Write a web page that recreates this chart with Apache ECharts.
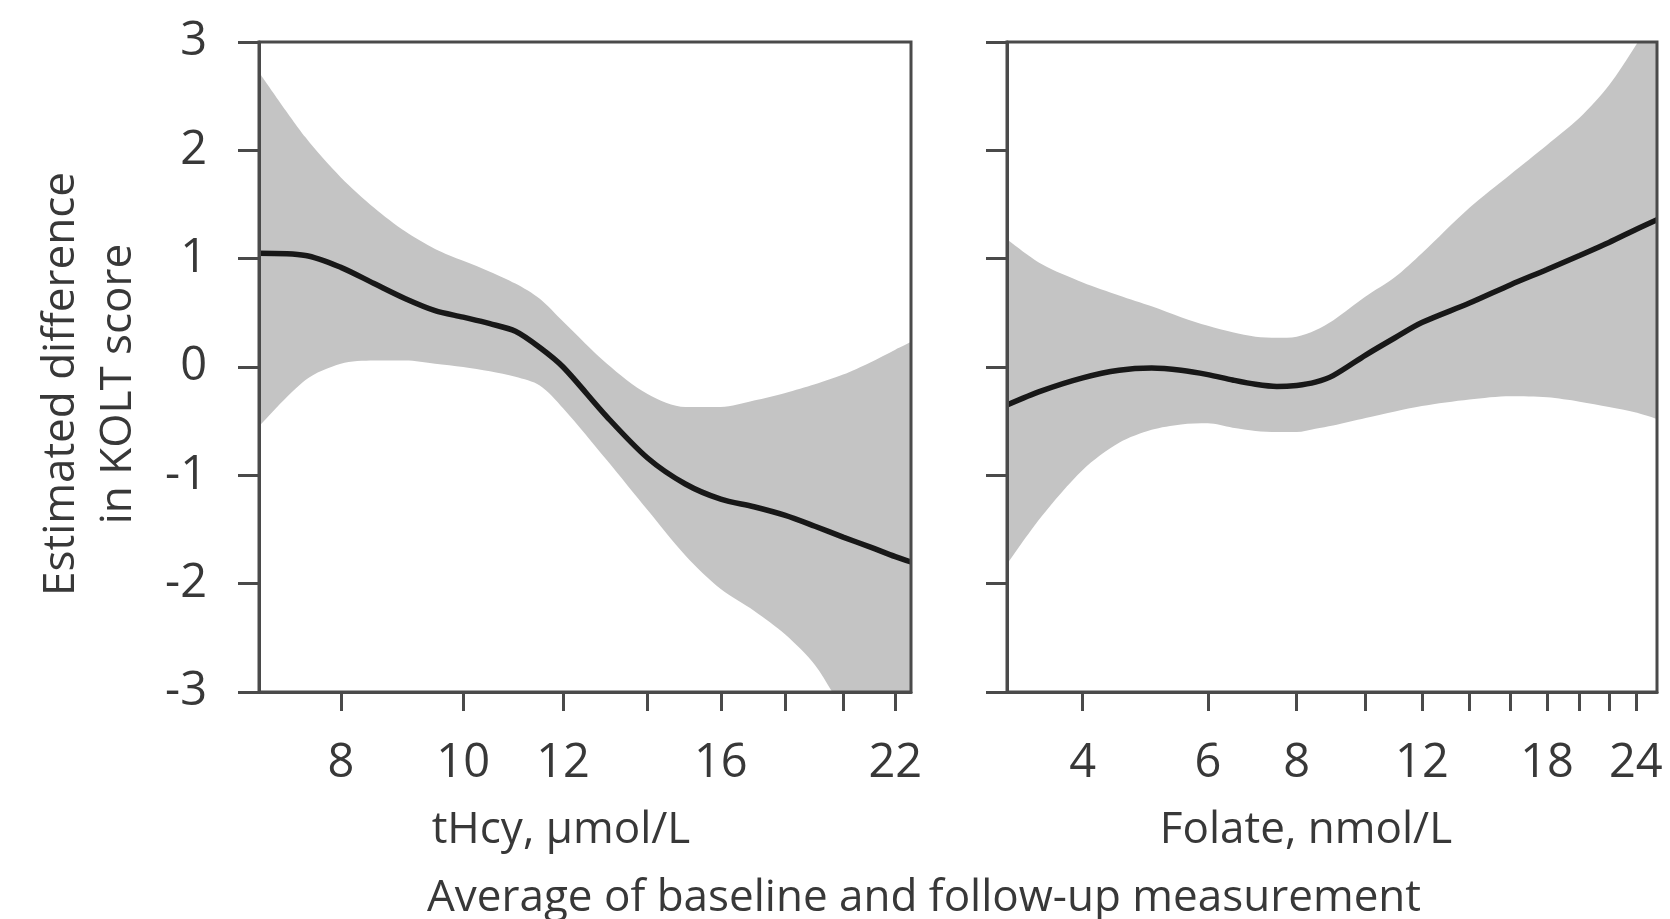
<!DOCTYPE html>
<html>
<head>
<meta charset="utf-8">
<title>KOLT score vs tHcy and folate</title>
<script src="https://cdn.jsdelivr.net/npm/echarts@6/dist/echarts.min.js"></script>
<style>
  html, body { margin: 0; padding: 0; background: #fff; }
  #main { width: 1670px; height: 919px; }
</style>
</head>
<body>
<div id="main"></div>
<script>
// tHcy panel (left), umol/L on a log axis
const thcyX     = [6.89, 7.5, 8, 8.5, 9, 9.5, 10, 10.5, 11, 11.5, 12, 13, 14, 15, 16, 17, 18, 19, 20, 21, 22, 22.64];
const thcyFit   = [1.05, 1.03, 0.92, 0.77, 0.63, 0.52, 0.46, 0.40, 0.33, 0.18, 0.0, -0.46, -0.84, -1.08, -1.22, -1.29, -1.37, -1.47, -1.57, -1.66, -1.75, -1.80];
const thcyLower = [-0.55, -0.12, 0.03, 0.06, 0.06, 0.03, 0.0, -0.04, -0.09, -0.17, -0.38, -0.86, -1.32, -1.74, -2.05, -2.25, -2.47, -2.75, -3.15, -3.4, -3.6, -3.7];
const thcyUpper = [2.72, 2.12, 1.75, 1.47, 1.25, 1.09, 0.98, 0.88, 0.77, 0.63, 0.42, 0.03, -0.25, -0.37, -0.37, -0.31, -0.24, -0.16, -0.07, 0.04, 0.16, 0.23];
const thcyTicks  = [8, 10, 12, 14, 16, 18, 20, 22];
const thcyLabels = [8, 10, 12, 16, 22];

// Folate panel (right), nmol/L on a log axis
const folX     = [3.13, 3.5, 4, 4.5, 5, 5.5, 6, 6.5, 7, 7.5, 8, 8.5, 9, 10, 11, 12, 14, 16, 18, 20, 22, 24, 25.7];
const folFit   = [-0.35, -0.22, -0.10, -0.03, -0.01, -0.03, -0.07, -0.12, -0.16, -0.18, -0.17, -0.14, -0.08, 0.11, 0.27, 0.41, 0.59, 0.76, 0.90, 1.03, 1.15, 1.27, 1.36];
const folLower = [-1.82, -1.38, -0.95, -0.70, -0.58, -0.53, -0.52, -0.56, -0.59, -0.60, -0.60, -0.57, -0.54, -0.47, -0.41, -0.36, -0.30, -0.27, -0.28, -0.32, -0.37, -0.42, -0.48];
const folUpper = [1.18, 0.95, 0.78, 0.66, 0.56, 0.46, 0.38, 0.32, 0.28, 0.27, 0.28, 0.34, 0.43, 0.65, 0.83, 1.05, 1.47, 1.78, 2.05, 2.30, 2.60, 2.97, 3.3];
const folTicks  = [4, 6, 8, 10, 12, 14, 16, 18, 20, 22, 24];
const folLabels = [4, 6, 8, 12, 18, 24];

const axisColor = '#4a4a4a';
const textColor = '#383838';
const bandColor = '#c4c4c4';
const font = 'Open Sans';

function pairs(xs, ys) {
    return xs.map((x, i) => [x, ys[i]]);
}

function xAxisFor(gridIndex, xs, ticks, labels, name, namePad) {
    return {
        type: 'log',
        gridIndex: gridIndex,
        z: 10,
        min: xs[0],
        max: xs[xs.length - 1],
        name: name,
        nameLocation: 'middle',
        nameGap: 116,
        nameTextStyle: { fontFamily: font, fontSize: 44, color: textColor, padding: [0, namePad, 0, 0] },
        axisLine: { show: true, onZero: false, lineStyle: { color: axisColor, width: 3 } },
        axisTick: { show: true, length: 19, lineStyle: { color: axisColor, width: 3 }, customValues: ticks },
        axisLabel: {
            fontFamily: font, fontSize: 47, color: textColor, margin: 48,
            customValues: labels,
            formatter: v => String(Math.round(v))
        },
        splitLine: { show: false },
        minorTick: { show: false }
    };
}

function yAxisFor(gridIndex, showLabels) {
    const ax = {
        type: 'value',
        gridIndex: gridIndex,
        z: 10,
        min: -3,
        max: 3,
        interval: 1,
        axisLine: { show: true, onZero: false, lineStyle: { color: axisColor, width: 3 } },
        axisTick: { show: true, length: 21, lineStyle: { color: axisColor, width: 3 } },
        axisLabel: { show: showLabels, fontFamily: font, fontSize: 47, color: textColor, margin: 52 },
        splitLine: { show: false }
    };
    if (showLabels) {
        ax.name = 'Estimated difference\nin KOLT score';
        ax.nameLocation = 'middle';
        ax.nameRotate = 90;
        ax.nameGap = 112;
        ax.nameTextStyle = { fontFamily: font, fontSize: 44, lineHeight: 57, color: textColor, align: 'center', padding: [0, 34, 0, 0] };
    }
    return ax;
}

// band = upper area filled grey down to the axis minimum, then the lower
// area filled white on top of it; axes and grid border sit above both
function panelSeries(idx, xs, lower, upper, fit) {
    return [
        {
            type: 'line', xAxisIndex: idx, yAxisIndex: idx,
            smooth: 0.3, symbol: 'none', z: 2,
            lineStyle: { width: 0, opacity: 0 },
            areaStyle: { color: bandColor, opacity: 1, origin: 'start' },
            data: pairs(xs, upper),
            silent: true
        },
        {
            type: 'line', xAxisIndex: idx, yAxisIndex: idx,
            smooth: 0.3, symbol: 'none', z: 3,
            lineStyle: { width: 0, opacity: 0 },
            areaStyle: { color: '#ffffff', opacity: 1, origin: 'start' },
            data: pairs(xs, lower),
            silent: true
        },
        {
            type: 'line', xAxisIndex: idx, yAxisIndex: idx,
            smooth: 0.3, symbol: 'none', z: 5,
            lineStyle: { color: '#181818', width: 5.5 },
            data: pairs(xs, fit)
        }
    ];
}

const chart = echarts.init(document.getElementById('main'));
const option = {
    backgroundColor: '#ffffff',
    animation: false,
    grid: [
        { left: 259, right: 759, top: 42, bottom: 227, z: 10, show: true, borderColor: axisColor, borderWidth: 3, backgroundColor: 'transparent' },
        { left: 1007, right: 13, top: 42, bottom: 227, z: 10, show: true, borderColor: axisColor, borderWidth: 3, backgroundColor: 'transparent' }
    ],
    xAxis: [
        xAxisFor(0, thcyX, thcyTicks, thcyLabels, 'tHcy, µmol/L', 48),
        xAxisFor(1, folX, folTicks, folLabels, 'Folate, nmol/L', 52)
    ],
    yAxis: [yAxisFor(0, true), yAxisFor(1, false)],
    series: [].concat(
        panelSeries(0, thcyX, thcyLower, thcyUpper, thcyFit),
        panelSeries(1, folX, folLower, folUpper, folFit)
    ),
    graphic: [{
        type: 'text',
        x: 924,
        y: 898,
        style: {
            text: 'Average of baseline and follow-up measurement',
            fontFamily: font,
            fontSize: 44,
            fill: textColor,
            align: 'center',
            verticalAlign: 'middle',
            textAlign: 'center',
            textVerticalAlign: 'middle'
        }
    }]
};
chart.setOption(option);
</script>
</body>
</html>
